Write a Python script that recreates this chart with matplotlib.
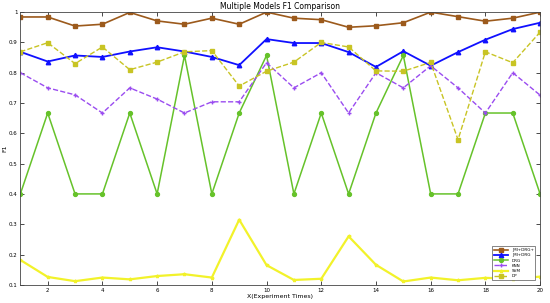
import matplotlib
matplotlib.use("Agg")
import matplotlib.pyplot as plt
import numpy as np

x = np.arange(1, 21)

jmi_drg_plus = [0.984, 0.984, 0.954, 0.96, 0.999, 0.971, 0.96, 0.98, 0.96, 1.0,
                0.98, 0.975, 0.95, 0.955, 0.965, 1.0, 0.985, 0.97, 0.98, 1.0]
jmi_drg = [0.869, 0.837, 0.857, 0.852, 0.87, 0.884, 0.87, 0.852, 0.825, 0.911,
           0.898, 0.898, 0.868, 0.819, 0.871, 0.823, 0.868, 0.909, 0.944, 0.965]
drg = [0.4, 0.667, 0.4, 0.4, 0.667, 0.4, 0.857, 0.4, 0.667, 0.857,
       0.4, 0.667, 0.4, 0.667, 0.857, 0.4, 0.4, 0.667, 0.667, 0.4]
knn = [0.8, 0.75, 0.727, 0.667, 0.75, 0.713, 0.667, 0.704, 0.704, 0.833,
       0.75, 0.8, 0.667, 0.8, 0.75, 0.823, 0.75, 0.667, 0.8, 0.726]
svm = [0.182, 0.126, 0.112, 0.124, 0.118, 0.129, 0.135, 0.124, 0.315, 0.165,
       0.116, 0.12, 0.26, 0.166, 0.111, 0.124, 0.115, 0.123, 0.12, 0.127]
dp = [0.869, 0.899, 0.83, 0.885, 0.81, 0.835, 0.869, 0.873, 0.756, 0.805,
      0.835, 0.9, 0.885, 0.806, 0.805, 0.834, 0.579, 0.869, 0.833, 0.934]

labels = ["JMI+DRG+", "JMI+DRG", "DRG", "KNN", "SVM", "DP"]

fig = plt.figure(figsize=(5.5, 3.03), dpi=100)
ax = fig.add_axes([0.037, 0.06, 0.945, 0.9])

ax.plot(x, jmi_drg_plus, color="#9c5a1c", lw=1.2, marker="s", ms=2.2, label=labels[0])
ax.plot(x, jmi_drg, color="#1010ff", lw=1.3, marker="^", ms=3.2, label=labels[1])
ax.plot(x, drg, color="#66c22a", lw=1.1, marker="o", ms=2.8, label=labels[2])
ax.plot(x, knn, color="#9a4cf0", lw=1.0, ls="--", marker="+", ms=3, label=labels[3])
ax.plot(x, svm, color="#f2f22a", lw=1.6, marker="*", ms=2.5, label=labels[4])
ax.plot(x, dp, color="#c8c424", lw=1.0, ls="--", marker="s", ms=2.2, label=labels[5])

ax.set_xlim(1, 20)
ax.set_ylim(0.1, 1.0)
ax.set_xticks(np.arange(2, 21, 2))
ax.set_yticks(np.arange(0.1, 1.01, 0.1))
ax.set_yticklabels([f"{v:g}" for v in np.round(np.arange(0.1, 1.01, 0.1), 1)])
ax.tick_params(direction="in", labelsize=4, length=3, width=0.5, pad=2, top=True, right=True)
for s in ax.spines.values():
    s.set_linewidth(0.6)
    s.set_color("#444444")

ax.set_title("Multiple Models F1 Comparison", fontsize=5.5, pad=2)
ax.set_xlabel("X(Experiment Times)", fontsize=4.5, labelpad=1)
ax.set_ylabel("F1", fontsize=4.5, labelpad=1)

leg = ax.legend(loc="lower right", fontsize=3, handlelength=3.5, labelspacing=0.3,
                borderpad=0.4, fancybox=False, framealpha=1, edgecolor="#555555",
                bbox_to_anchor=(0.995, 0.01))
leg.get_frame().set_linewidth(0.5)

fig.savefig("out.png", dpi=100)
